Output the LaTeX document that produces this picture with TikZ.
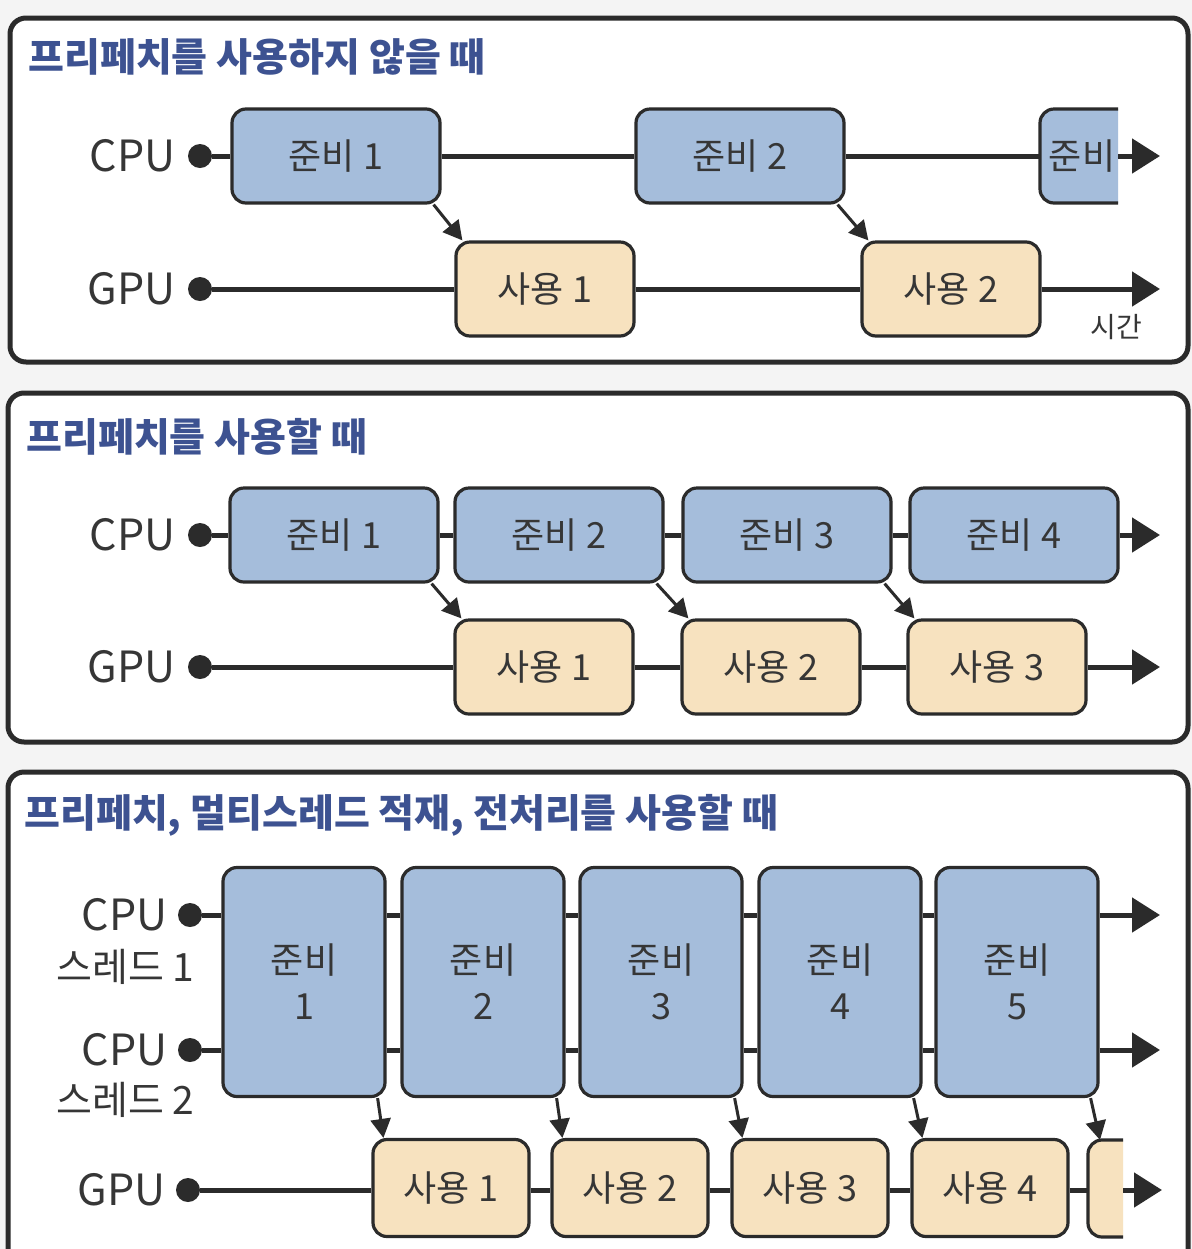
\documentclass[tikz,border=0pt]{standalone}
\usepackage{fontspec}
\setmainfont{Noto Sans CJK KR}
\usetikzlibrary{arrows.meta}
\definecolor{prepblue}{HTML}{A5BDDB}
\definecolor{usecream}{HTML}{F7E2BF}
\definecolor{edge}{HTML}{2B2B2B}
\definecolor{titleblue}{HTML}{3D5291}
\definecolor{txt}{HTML}{363636}
\definecolor{bg}{HTML}{F4F4F4}
\begin{document}
\begin{tikzpicture}[x=0.5pt,y=-0.5pt,
 panel/.style={draw=edge, line width=2.5pt, rounded corners=8pt, fill=white},
 title/.style={anchor=west, text=titleblue, font=\fontsize{19.5}{21}\selectfont\bfseries, inner sep=0},
 lab/.style={text=txt, font=\fontsize{21.5}{24}\selectfont, anchor=east, inner sep=0},
 thr/.style={text=txt, font=\fontsize{19.5}{21}\selectfont, anchor=east, inner sep=0},
 dot/.style={circle, fill=edge, inner sep=0, minimum size=12pt},
 box/.style={draw=edge, line width=1.6pt, rounded corners=7pt, text=txt, font=\fontsize{18}{21}\selectfont, inner sep=0, align=center},
 prepbox/.style={box, fill=prepblue},
 usebox/.style={box, fill=usecream},
 wide/.style={minimum width=104pt, minimum height=47pt},
 narrow/.style={minimum width=89pt, minimum height=47pt},
 tall/.style={minimum width=81pt, minimum height=114.5pt},
 small/.style={minimum width=78pt, minimum height=48.5pt},
 wire/.style={draw=edge, line width=2.5pt},
 timearrow/.style={wire, -{Triangle[length=14pt,width=17pt]}},
 hand/.style={draw=edge, line width=1.5pt, -{Triangle[length=9.5pt,width=10pt]}},
]
\clip (0,0) rectangle (1192,1249);
\fill[bg] (0,0) rectangle (1192,1249);

% ---------------- Panel 1 ----------------
\draw[panel] (10,18) rectangle (1188,362);
\node[title] (t1) at (28,57) {프리페치를 사용하지 않을 때};
\node[dot] (c1) at (200,156) {};
\node[lab] (c1l) at (176,156) {CPU};
\node[dot] (g1) at (200,289) {};
\node[lab] (g1l) at (176,289) {GPU};
\node[prepbox, wide] (a1) at (336,156) {준비 1};
\node[prepbox, wide] (a2) at (740,156) {준비 2};
\filldraw[fill=prepblue, draw=edge, line width=1.6pt, rounded corners=7pt]
  (1118,109) -- (1040,109) -- (1040,203) -- (1118,203);
\node[text=txt, font=\fontsize{18}{21}\selectfont, inner sep=0] (a3) at (1082,156) {준비};
\coordinate (a3w) at (1040,156);
\coordinate (a3e) at (1118,156);
\coordinate (e1) at (1160,156);
\node[usebox, narrow] (b1) at (545,289) {사용 1};
\node[usebox, narrow] (b2) at (951,289) {사용 2};
\coordinate (e2) at (1160,289);
\node[text=txt, font=\fontsize{14}{16}\selectfont, inner sep=0] (time) at (1116,327) {시간};
\draw[wire] (c1) -- (a1);
\draw[wire] (a1) -- (a2);
\draw[wire] (a2) -- (a3w);
\draw[timearrow] (a3e) -- (e1);
\draw[wire] (g1) -- (b1);
\draw[wire] (b1) -- (b2);
\draw[timearrow] (b2) -- (e2);
\draw[hand] ([xshift=-4pt]a1.south east) -- ([xshift=4pt]b1.north west);
\draw[hand] ([xshift=-4pt]a2.south east) -- ([xshift=4pt]b2.north west);

% ---------------- Panel 2 ----------------
\draw[panel] (8,393) rectangle (1188,742);
\node[title] (t2) at (26,437) {프리페치를 사용할 때};
\node[dot] (c2) at (200,535) {};
\node[lab] (c2l) at (176,535) {CPU};
\node[dot] (g2) at (200,667) {};
\node[lab] (g2l) at (176,667) {GPU};
\node[prepbox, wide] (p21) at (334,535) {준비 1};
\node[prepbox, wide] (p22) at (559,535) {준비 2};
\node[prepbox, wide] (p23) at (787,535) {준비 3};
\node[prepbox, wide] (p24) at (1014,535) {준비 4};
\coordinate (e3) at (1160,535);
\node[usebox, narrow] (u21) at (544,667) {사용 1};
\node[usebox, narrow] (u22) at (771,667) {사용 2};
\node[usebox, narrow] (u23) at (997,667) {사용 3};
\coordinate (e4) at (1160,667);
\draw[wire] (c2) -- (p21);
\draw[wire] (p21) -- (p22);
\draw[wire] (p22) -- (p23);
\draw[wire] (p23) -- (p24);
\draw[timearrow] (p24) -- (e3);
\draw[wire] (g2) -- (u21);
\draw[wire] (u21) -- (u22);
\draw[wire] (u22) -- (u23);
\draw[timearrow] (u23) -- (e4);
\draw[hand] ([xshift=-4pt]p21.south east) -- ([xshift=4pt]u21.north west);
\draw[hand] ([xshift=-4pt]p22.south east) -- ([xshift=4pt]u22.north west);
\draw[hand] ([xshift=-4pt]p23.south east) -- ([xshift=4pt]u23.north west);

% ---------------- Panel 3 ----------------
\draw[panel] (8,772) rectangle (1188,1300);
\node[title] (t3) at (24,815) {프리페치, 멀티스레드 적재, 전처리를 사용할 때};
\node[dot] (c31) at (190,915) {};
\node[lab] (c31l) at (168,915) {CPU};
\node[thr] (th1) at (195,967) {스레드 1};
\node[dot] (c32) at (190,1050) {};
\node[lab] (c32l) at (168,1050) {CPU};
\node[thr] (th2) at (195,1100) {스레드 2};
\node[dot] (g3) at (188,1190) {};
\node[lab] (g3l) at (166,1190) {GPU};
\node[prepbox, tall] (q1) at (304,982) {준비\\[2pt]1};
\node[prepbox, tall] (q2) at (483,982) {준비\\[2pt]2};
\node[prepbox, tall] (q3) at (661,982) {준비\\[2pt]3};
\node[prepbox, tall] (q4) at (840,982) {준비\\[2pt]4};
\node[prepbox, tall] (q5) at (1017,982) {준비\\[2pt]5};
\coordinate (e5) at (1160,915);
\coordinate (e6) at (1160,1050);
\node[usebox, small] (v1) at (451,1188) {사용 1};
\node[usebox, small] (v2) at (630,1188) {사용 2};
\node[usebox, small] (v3) at (810,1188) {사용 3};
\node[usebox, small] (v4) at (990,1188) {사용 4};
\filldraw[fill=usecream, draw=edge, line width=1.6pt, rounded corners=7pt]
  (1123,1140) -- (1088,1140) -- (1088,1237) -- (1123,1237);
\coordinate (v5w) at (1088,1190);
\coordinate (v5e) at (1123,1190);
\coordinate (v5n) at (1100,1140);
\coordinate (e7) at (1162,1190);
% CPU thread wires
\draw[wire] (c31) -- (q1.west |- c31);
\draw[wire] (c32) -- (q1.west |- c32);
\draw[wire] (q1.east |- c31) -- (q2.west |- c31);
\draw[wire] (q1.east |- c32) -- (q2.west |- c32);
\draw[wire] (q2.east |- c31) -- (q3.west |- c31);
\draw[wire] (q2.east |- c32) -- (q3.west |- c32);
\draw[wire] (q3.east |- c31) -- (q4.west |- c31);
\draw[wire] (q3.east |- c32) -- (q4.west |- c32);
\draw[wire] (q4.east |- c31) -- (q5.west |- c31);
\draw[wire] (q4.east |- c32) -- (q5.west |- c32);
\draw[timearrow] (q5.east |- c31) -- (e5);
\draw[timearrow] (q5.east |- c32) -- (e6);
% GPU wires
\draw[wire] (g3) -- (v1.west |- g3);
\draw[wire] (v1.east |- g3) -- (v2.west |- g3);
\draw[wire] (v2.east |- g3) -- (v3.west |- g3);
\draw[wire] (v3.east |- g3) -- (v4.west |- g3);
\draw[wire] (v4.east |- g3) -- (v5w);
\draw[timearrow] (v5e) -- (e7);
% hand-off arrows
\draw[hand] ([xshift=-4.5pt]q1.south east) -- ([xshift=6pt]v1.north west);
\draw[hand] ([xshift=-4.5pt]q2.south east) -- ([xshift=6pt]v2.north west);
\draw[hand] ([xshift=-4.5pt]q3.south east) -- ([xshift=6pt]v3.north west);
\draw[hand] ([xshift=-4.5pt]q4.south east) -- ([xshift=6pt]v4.north west);
\draw[hand] ([xshift=-4.5pt]q5.south east) -- (v5n);
\end{tikzpicture}
\end{document}
